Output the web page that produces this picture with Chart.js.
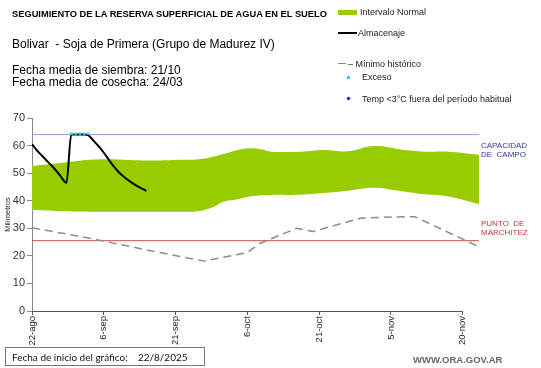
<!DOCTYPE html>
<html>
<head>
<meta charset="utf-8">
<script src="https://cdn.jsdelivr.net/npm/chart.js@4"></script>
<style>
  body { margin: 0; background: #fff; }
  #wrap { position: relative; width: 541px; height: 368px; font-family: "Liberation Sans", Arial, sans-serif; }
  #chart { position: absolute; left: 0; top: 0; }
  .t { position: absolute; white-space: nowrap; color: #000; }
  .lg { position: absolute; font-size: 9px; color: #222; white-space: nowrap; }
  .side { position: absolute; font-size: 8px; line-height: 9px; }
</style>
</head>
<body>
<div id="wrap">
  <canvas id="chart" width="541" height="368"></canvas>

  <div class="t" style="left:12px; top:9px; font-size:9.3px; font-weight:bold;">SEGUIMIENTO DE LA RESERVA SUPERFICIAL DE AGUA EN EL SUELO</div>
  <div class="t" style="left:12px; top:37px; font-size:12px;">Bolivar&nbsp; - Soja de Primera (Grupo de Madurez IV)</div>
  <div class="t" style="left:12px; top:64px; font-size:12px; line-height:12px;">Fecha media de siembra: 21/10<br>Fecha media de cosecha: 24/03</div>

  <div style="position:absolute; left:338px; top:10px; width:19px; height:5px; background:#99cc00;"></div>
  <div class="lg" style="left:360px; top:7px;">Intervalo Normal</div>
  <div style="position:absolute; left:338px; top:32px; width:19px; height:2px; background:#000;"></div>
  <div class="lg" style="left:358px; top:28px;">Almacenaje</div>
  <div style="position:absolute; left:338px; top:63px; width:8px; height:1px; background:#888;"></div>
  <div class="lg" style="left:348px; top:59px;">– Mínimo histórico</div>
  <div style="position:absolute; left:347px; top:76px; width:3px; height:3px; background:#33ccee;"></div>
  <div class="lg" style="left:362px; top:72px;">Exceso</div>
  <div style="position:absolute; left:347px; top:97px; width:3px; height:3px; background:#1a1a8c; transform:rotate(45deg);"></div>
  <div class="lg" style="left:362px; top:94px;">Temp &lt;3°C fuera del período habitual</div>

  <div class="side" style="left:481px; top:141px; color:#333399;">CAPACIDAD<br>DE&nbsp; CAMPO</div>
  <div class="side" style="left:481px; top:219px; color:#cc3333;">PUNTO&nbsp; DE<br>MARCHITEZ</div>

  <div style="position:absolute; left:5px; top:347px; width:200px; height:19px; border:1px solid #777; box-sizing:border-box;"></div>
  <div class="t" style="left:12px; top:351px; font-size:10px; font-family:Lato, sans-serif; color:#111;">Fecha de inicio del gráfico:&nbsp;&nbsp;&nbsp; 22/8/2025</div>
  <div class="t" style="left:413px; top:354px; font-size:9.5px; font-weight:bold; color:#666;">WWW.ORA.GOV.AR</div>
</div>

<script>
// days counted from 22-ago
const tickDays = [0, 15, 30, 45, 60, 75, 90];
const tickLabels = ['22-ago', '6-sep', '21-sep', '6-oct', '21-oct', '5-nov', '20-nov'];

const bandDays = [0, 5, 10, 15, 20, 25, 30, 35, 38, 40, 43, 45.5, 48, 50, 56, 61, 66, 71.5, 77, 82, 87, 93.4];
const bandUpper = [52.6, 53.5, 54.5, 55.0, 54.8, 54.6, 54.8, 55.0, 56.0, 56.9, 58.4, 59.0, 58.6, 57.8, 57.8, 58.4, 57.9, 59.8, 58.6, 57.8, 57.8, 56.7];
const bandLower = [36.6, 36.3, 36.1, 36.0, 36.0, 36.0, 36.0, 36.3, 37.8, 39.6, 40.5, 41.5, 42.0, 42.1, 42.2, 42.8, 43.6, 44.7, 43.5, 42.3, 41.5, 38.7];

const storeDays = [0, 1, 2, 3, 4, 5, 6, 7.2, 8.2, 9, 10, 11, 11.7, 13, 14, 15, 16, 17, 18, 19, 20, 21, 22, 23, 23.9];
const storeValues = [60.5, 58.3, 56.5, 54.7, 52.9, 51.0, 48.8, 46.5, 64, 64, 64, 64, 63.8, 61.5, 59.6, 57.4, 55.0, 52.6, 50.6, 49.0, 47.6, 46.4, 45.3, 44.4, 43.6];

const minDays = [0, 12, 23, 27, 36, 45, 47.6, 55.3, 58.7, 68.5, 73, 80, 93.4];
const minValues = [30.2, 26.4, 22.5, 21.1, 18.1, 21.2, 24.5, 30.0, 28.8, 33.6, 34.0, 34.2, 23.3];

const excessDays = [8.2, 9, 10, 11, 11.7];
const excessValues = [64.3, 64.3, 64.3, 64.3, 64.3];

const fieldCapacity = 64;
const wiltingPoint = 25.5;
const lastDay = 93.4;

const pts = (xs, ys) => xs.map((x, i) => ({ x: x, y: ys[i] }));

// x axis line only up to the last labelled date
const xAxisLine = {
  id: 'xAxisLine',
  afterDraw(chart) {
    const x = chart.scales.x, y = chart.scales.y;
    const ctx = chart.ctx;
    const yy = y.getPixelForValue(0);
    ctx.save();
    ctx.strokeStyle = '#555';
    ctx.lineWidth = 1;
    ctx.beginPath();
    ctx.moveTo(x.getPixelForValue(0), yy + 0.5);
    ctx.lineTo(x.getPixelForValue(90), yy + 0.5);
    ctx.stroke();
    ctx.restore();
  }
};

new Chart(document.getElementById('chart'), {
  type: 'line',
  data: {
    datasets: [
      {
        label: 'lower',
        data: pts(bandDays, bandLower),
        borderWidth: 0,
        pointRadius: 0,
        tension: 0.4,
        fill: false,
        order: 11
      },
      {
        label: 'Intervalo Normal',
        data: pts(bandDays, bandUpper),
        borderWidth: 0,
        pointRadius: 0,
        tension: 0.4,
        backgroundColor: '#99cc00',
        fill: '-1',
        order: 10
      },
      {
        label: 'Capacidad',
        data: pts([0, lastDay], [fieldCapacity, fieldCapacity]),
        borderColor: '#8ea4d8',
        borderWidth: 1,
        pointRadius: 0,
        order: 4
      },
      {
        label: 'Marchitez',
        data: pts([0, lastDay], [wiltingPoint, wiltingPoint]),
        borderColor: '#c05050',
        borderWidth: 1,
        pointRadius: 0,
        order: 3
      },
      {
        label: 'Mínimo histórico',
        data: pts(minDays, minValues),
        borderColor: '#8c8c8c',
        borderWidth: 1.5,
        borderDash: [8, 5],
        pointRadius: 0,
        order: 2
      },
      {
        label: 'Almacenaje',
        data: pts(storeDays, storeValues),
        borderColor: '#000',
        borderWidth: 2,
        pointRadius: 0,
        cubicInterpolationMode: 'monotone',
        order: 1
      },
      {
        label: 'Exceso',
        data: pts(excessDays, excessValues),
        borderColor: '#33ccee',
        borderWidth: 2,
        borderDash: [2, 2],
        pointRadius: 1.2,
        pointBackgroundColor: '#33ccee',
        pointBorderWidth: 0,
        order: 0
      }
    ]
  },
  options: {
    responsive: false,
    animation: false,
    devicePixelRatio: 1,
    layout: { padding: { top: 118, right: 62, left: 0, bottom: 0 } },
    plugins: {
      legend: { display: false },
      tooltip: { enabled: false }
    },
    scales: {
      x: {
        type: 'linear',
        min: 0,
        max: lastDay,
        afterBuildTicks: s => { s.ticks = tickDays.map(v => ({ value: v })); },
        afterFit: s => { s.height = 57; },
        border: { display: false },
        grid: { drawOnChartArea: false, tickLength: 4, color: '#555' },
        ticks: {
          minRotation: 90,
          maxRotation: 90,
          padding: 1,
          color: '#222',
          font: { family: 'Liberation Sans', size: 9.5 },
          callback: v => tickLabels[tickDays.indexOf(v)]
        }
      },
      y: {
        min: 0,
        max: 70,
        afterFit: s => { s.width = 32; },
        border: { color: '#888' },
        grid: { drawOnChartArea: false, tickLength: 5, color: '#888' },
        ticks: {
          stepSize: 10,
          padding: 2,
          color: '#333',
          font: { family: 'Liberation Sans', size: 11 }
        },
        title: {
          display: true,
          text: 'Milímetros',
          color: '#222',
          padding: { top: 3, bottom: 0 },
          font: { family: 'Liberation Sans', size: 7.5 }
        }
      }
    }
  },
  plugins: [xAxisLine]
});
</script>
</body>
</html>
